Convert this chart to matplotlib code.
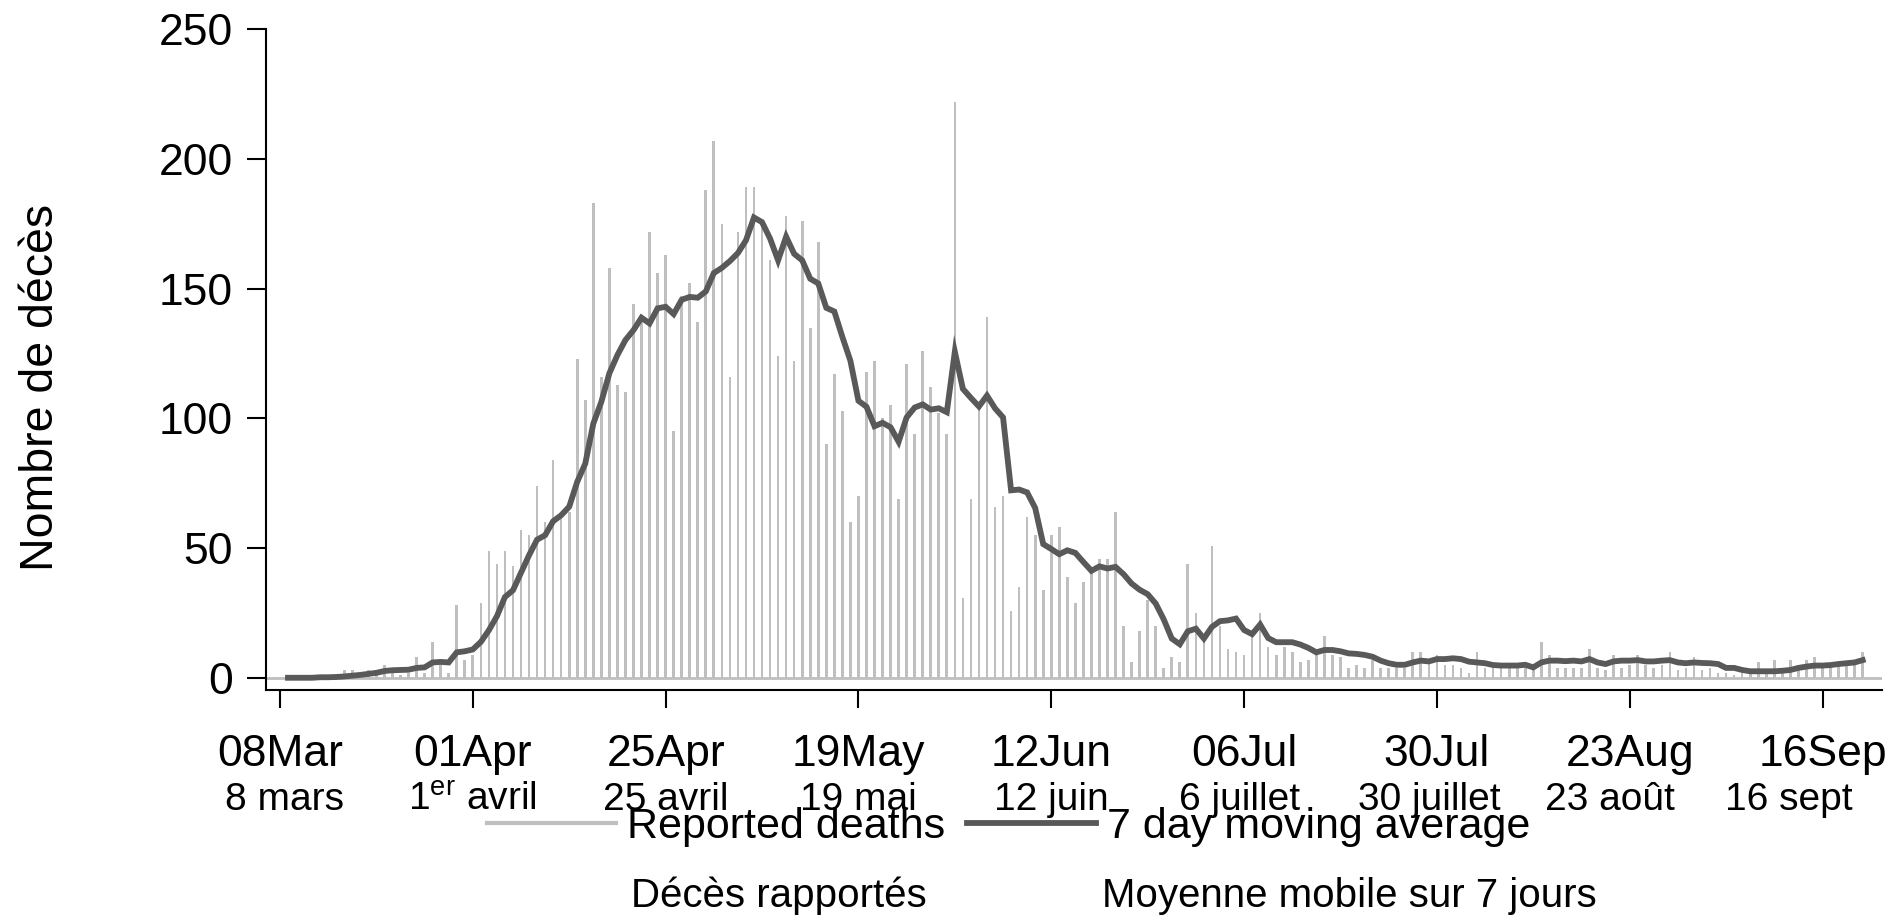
import numpy as np
import pandas as pd
import matplotlib
matplotlib.use("Agg")
import matplotlib.pyplot as plt
import matplotlib.dates as mdates
from matplotlib.lines import Line2D

plt.rcParams['font.family'] = ['Liberation Sans', 'DejaVu Sans']
plt.rcParams['mathtext.fontset'] = 'custom'
plt.rcParams['mathtext.rm'] = 'Liberation Sans'

# ---------------- data ----------------
start_date = "2020-03-08"

reported_deaths = [
    0, 0, 0, 0, 0, 1, 0, 1, 3, 3, 1, 3, 2, 5, 2, 1, 2, 8, 2, 14,
    5, 2, 28, 7, 9, 29, 49, 44, 49, 43, 57, 55, 74, 60, 84, 62, 64, 123, 107, 183,
    116, 158, 113, 110, 144, 138, 172, 156, 163, 95, 147, 152, 137, 188, 207, 175, 116, 172, 189, 189,
    176, 161, 124, 178, 122, 176, 135, 168, 90, 117, 103, 60, 70, 118, 122, 100, 105, 69, 121, 94,
    126, 112, 102, 94, 222, 31, 69, 104, 139, 66, 70, 26, 35, 62, 55, 34, 55, 58, 39, 29,
    37, 41, 46, 46, 64, 20, 6, 18, 30, 20, 4, 8, 6, 44, 25, 15, 51, 20, 11, 10,
    9, 16, 25, 12, 9, 12, 10, 6, 7, 9, 16, 9, 8, 4, 5, 4, 7, 4, 4, 4,
    4, 10, 10, 7, 9, 5, 5, 4, 2, 10, 4, 4, 4, 4, 4, 4, 5, 14, 9, 4,
    4, 4, 4, 11, 4, 3, 9, 4, 5, 9, 5, 4, 5, 10, 3, 4, 8, 3, 4, 2,
    2, 1, 2, 2, 6, 2, 7, 2, 7, 4, 7, 8, 4, 5, 5, 6, 6, 10,
]

# 7-day moving average as drawn (starts on day 1)
moving_average = [
    0.1, 0.1, 0.1, 0.1, 0.3, 0.3, 0.4, 0.6, 0.9, 1.2, 1.6, 2.0, 2.7, 3.0, 3.1, 3.2, 3.9, 4.1, 6.0,
    6.2, 6.0, 9.9, 10.3, 11.0, 13.9, 18.4, 23.8, 31.2, 33.8, 40.6, 47.3, 53.3, 55.0, 60.4, 62.7, 66.0, 75.6, 82.6, 98.0,
    106.4, 117.4, 124.4, 130.2, 134.0, 138.8, 136.6, 142.4, 143.0, 140.2, 145.7, 146.8, 146.5, 148.9, 156.0, 158.0, 160.6, 163.7, 168.6, 177.4,
    175.6, 169.3, 160.9, 170.0, 163.4, 160.9, 153.8, 152.0, 142.6, 141.2, 131.4, 122.2, 106.8, 104.5, 97.0, 98.3, 96.6, 91.0, 100.4, 104.2,
    105.4, 103.4, 103.9, 102.4, 125.7, 111.4, 107.9, 104.6, 108.8, 103.9, 100.4, 72.3, 72.6, 71.5, 65.5, 51.6, 49.7, 47.7, 49.2, 48.2,
    44.7, 41.3, 43.0, 42.2, 42.8, 40.0, 36.4, 34.0, 32.3, 28.7, 22.6, 15.2, 13.0, 18.0, 19.0, 15.2, 19.7, 21.9, 22.2, 22.9,
    18.5, 16.9, 20.6, 15.4, 13.8, 13.8, 13.8, 12.9, 11.6, 9.9, 10.8, 10.8, 10.3, 9.5, 9.3, 8.9, 8.2, 6.7, 5.7, 5.1,
    5.1, 6.0, 6.7, 6.4, 7.3, 7.3, 7.6, 7.3, 6.3, 6.0, 5.7, 5.0, 4.8, 4.8, 4.8, 5.1, 4.1, 6.0, 6.7, 6.7,
    6.5, 6.7, 6.4, 7.3, 6.0, 5.4, 6.4, 6.7, 6.7, 6.9, 6.4, 6.4, 6.7, 6.9, 6.0, 5.7, 6.0, 5.8, 5.7, 5.4,
    3.9, 3.9, 3.1, 2.6, 2.6, 2.6, 2.6, 2.8, 3.1, 3.9, 4.4, 4.8, 4.8, 5.0, 5.4, 5.7, 6.0, 6.9,
]

tick_dates = ["2020-03-08", "2020-04-01", "2020-04-25", "2020-05-19", "2020-06-12",
              "2020-07-06", "2020-07-30", "2020-08-23", "2020-09-16"]
tick_labels_en = ["08Mar", "01Apr", "25Apr", "19May", "12Jun", "06Jul", "30Jul", "23Aug", "16Sep"]
tick_labels_fr = ["8 mars", "1$^{\\mathrm{er}}$ avril", "25 avril", "19 mai", "12 juin",
                  "6 juillet", "30 juillet", "23 août", "16 sept"]

legend_en = ["Reported deaths", "7 day moving average"]
legend_fr = ["Décès rapportés", "Moyenne mobile sur 7 jours"]
y_label = "Nombre de décès"

# ---------------- layout / style ----------------
bar_color = "#bfbfbf"
line_color = "#595959"
# horizontal nudges (in days) of the French labels, as placed in the original
fr_offsets = [0.6, 0.0, 0.0, 0.0, 0.0, -0.6, -0.9, -2.4, -4.2]

dates_bars = pd.date_range(start_date, periods=len(reported_deaths))
dates_ma = pd.date_range(pd.Timestamp(start_date) + pd.Timedelta(days=1), periods=len(moving_average))

fig = plt.figure(figsize=(18.98, 9.18), dpi=100)
ax = fig.add_axes([0.14015, 0.2484, 0.8514, 0.72])

ax.bar(dates_bars, reported_deaths, width=0.33, color=bar_color, linewidth=0, zorder=2)
ax.axhline(0, color=bar_color, lw=2, zorder=1)
ax.plot(dates_ma, moving_average, color=line_color, lw=4.2, zorder=3,
        solid_joinstyle='miter')

x0 = mdates.date2num(pd.Timestamp(start_date))
ax.set_xlim(x0 - 1.74, x0 + 199.4)
ax.set_ylim(-4.6, 250)

ax.set_yticks([0, 50, 100, 150, 200, 250])
ax.set_yticklabels(["0", "50", "100", "150", "200", "250"])
tick_nums = [mdates.date2num(pd.Timestamp(d)) for d in tick_dates]
ax.set_xticks(tick_nums)
ax.set_xticklabels(tick_labels_en)

for s in ["top", "right"]:
    ax.spines[s].set_visible(False)
for s in ["left", "bottom"]:
    ax.spines[s].set_linewidth(1.5)
    ax.spines[s].set_color("black")

ax.tick_params(axis='y', length=14, width=1.5, pad=10, labelsize=32)
ax.tick_params(axis='x', length=13, width=1.5, pad=19, labelsize=32)

# French tick labels
trans = matplotlib.transforms.blended_transform_factory(ax.transData, fig.transFigure)
for t, lab, off in zip(tick_nums, tick_labels_fr, fr_offsets):
    ax.text(t + off, 0.1285, lab, transform=trans, ha='center', va='center', fontsize=28)

fig.text(0.0215, 0.578, y_label, rotation=90, ha='center', va='center', fontsize=33.5)

handles = [Line2D([], [], color=bar_color, lw=3),
           Line2D([], [], color=line_color, lw=4.2)]
fig.legend(handles, legend_en, loc='center', bbox_to_anchor=(0.5316, 0.099), ncol=2,
           frameon=False, fontsize=31, handlelength=3.0, handletextpad=0.26,
           columnspacing=0.5, borderpad=0, borderaxespad=0)

fig.text(0.4104, 0.024, legend_fr[0], ha='center', va='center', fontsize=29)
fig.text(0.711, 0.024, legend_fr[1], ha='center', va='center', fontsize=29)

fig.savefig("out.png", dpi=100)
